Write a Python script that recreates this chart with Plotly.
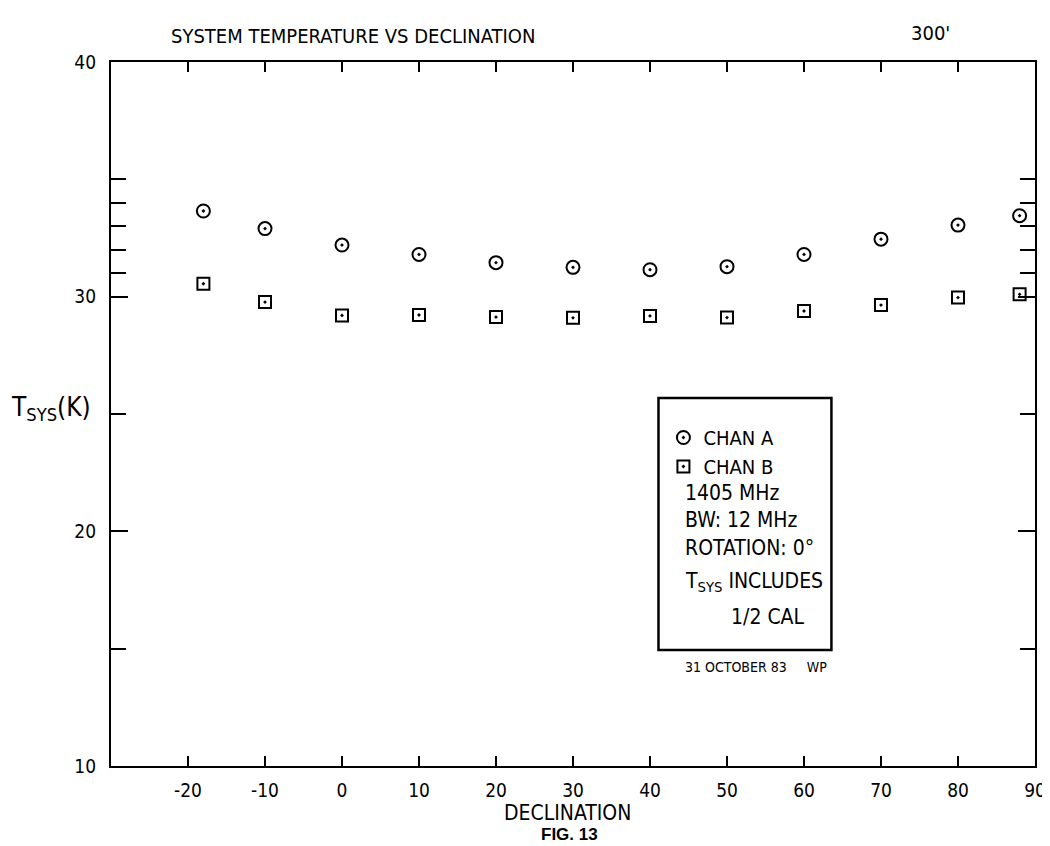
import plotly.graph_objects as go

# ---- data ----
declination = [-18, -10, 0, 10, 20, 30, 40, 50, 60, 70, 80, 88]
chan_a = [33.65, 32.9, 32.2, 31.8, 31.45, 31.25, 31.15, 31.28, 31.8, 32.45, 33.05, 33.45]
chan_b = [30.55, 29.77, 29.2, 29.22, 29.13, 29.1, 29.18, 29.11, 29.39, 29.64, 29.96, 30.1]

x_ticks = [-20, -10, 0, 10, 20, 30, 40, 50, 60, 70, 80, 90]
x_ticktext = ["-20", "-10", "0", "10", "20", "30", "40", "50", "60", "70", "80", "90"]
y_ticks = [10, 20, 30, 40]
y_ticktext = ["10", "20", "30", "40"]
y_minor = [15, 25, 35, 31, 32, 33, 34]

info_lines = ["1405 MHz", "BW: 12 MHz", "ROTATION: 0°", "T<sub>SYS</sub> INCLUDES", "1/2 CAL"]

FONT = "Liberation Sans Narrow, DejaVu Sans Condensed, Arial Narrow, sans-serif"

W, H = 1050, 846
L, R, T, B = 103, 1038, 54, 758


def px(xp):
    return (xp - L) / (R - L)


def py(yp):
    return (B - yp) / (B - T)


fig = go.Figure()
fig.add_trace(go.Scatter(
    x=declination, y=chan_a, mode="markers", name="CHAN A",
    marker=dict(symbol="circle-open-dot", size=13, color="black",
                line=dict(width=2, color="black"))))
fig.add_trace(go.Scatter(
    x=declination, y=chan_b, mode="markers", name="CHAN B",
    marker=dict(symbol="square-open-dot", size=12, color="black",
                line=dict(width=2, color="black"))))

fig.update_layout(
    width=W, height=H, autosize=False,
    margin=dict(l=L, r=W - R, t=T, b=H - B),
    paper_bgcolor="white", plot_bgcolor="white",
    font=dict(family=FONT, color="black", size=18),
    showlegend=True,
    legend=dict(x=px(662), y=py(410), xanchor="left", yanchor="top",
                bgcolor="rgba(0,0,0,0)", borderwidth=0,
                font=dict(family=FONT, size=20), itemwidth=30,
                tracegroupgap=0),
)

fig.update_xaxes(
    range=[-30, 90], showgrid=False, zeroline=False,
    showline=True, linecolor="black", linewidth=2.2, mirror="ticks",
    ticks="inside", ticklen=10, tickwidth=2, tickcolor="black",
    tickvals=x_ticks, ticktext=x_ticktext,
    tickfont=dict(family=FONT, size=19), ticklabelstandoff=6,
)
fig.update_yaxes(
    range=[10, 40], showgrid=False, zeroline=False,
    showline=True, linecolor="black", linewidth=2.2, mirror="ticks",
    ticks="inside", ticklen=17, tickwidth=2, tickcolor="black",
    tickvals=y_ticks, ticktext=y_ticktext,
    tickfont=dict(family=FONT, size=19), ticklabelstandoff=9,
    minor=dict(tickvals=y_minor, ticks="inside", ticklen=15, tickwidth=1.8,
               tickcolor="black"),
)

# legend/info box
fig.add_shape(type="rect", xref="paper", yref="paper",
              x0=px(657), x1=px(832), y0=py(642), y1=py(390),
              line=dict(color="black", width=2.5), fillcolor="rgba(0,0,0,0)")

ann = []
ys = [485, 512, 540, 574, 609]
xs = [682, 682, 682, 682, 728]
for txt, yy, xx in zip(info_lines, ys, xs):
    ann.append(dict(text=txt, x=px(xx), y=py(yy), xref="paper", yref="paper",
                    xanchor="left", yanchor="middle", showarrow=False,
                    font=dict(family=FONT, size=21)))

ann.append(dict(text="31 OCTOBER 83&nbsp;&nbsp;&nbsp;&nbsp;&nbsp;WP", x=px(682), y=py(659),
                xref="paper", yref="paper", xanchor="left", yanchor="middle",
                showarrow=False, font=dict(family=FONT, size=14)))
ann.append(dict(text="SYSTEM TEMPERATURE VS DECLINATION", x=px(162), y=py(28),
                xref="paper", yref="paper", xanchor="left", yanchor="middle",
                showarrow=False, font=dict(family=FONT, size=20)))
ann.append(dict(text="300'", x=px(932), y=py(25), xref="paper", yref="paper",
                xanchor="center", yanchor="middle", showarrow=False,
                font=dict(family=FONT, size=20)))
ann.append(dict(text="T<sub>SYS</sub>(K)", x=px(42), y=py(400), xref="paper",
                yref="paper", xanchor="center", yanchor="middle", showarrow=False,
                font=dict(family=FONT, size=26)))
ann.append(dict(text="DECLINATION", x=px(565), y=py(805), xref="paper",
                yref="paper", xanchor="center", yanchor="middle", showarrow=False,
                font=dict(family=FONT, size=21)))
ann.append(dict(text="<b>FIG. 13</b>", x=px(567), y=py(827), xref="paper",
                yref="paper", xanchor="center", yanchor="middle", showarrow=False,
                font=dict(family="Liberation Sans, Arial, sans-serif", size=17)))
fig.update_layout(annotations=ann)

fig.write_html("out.html")
